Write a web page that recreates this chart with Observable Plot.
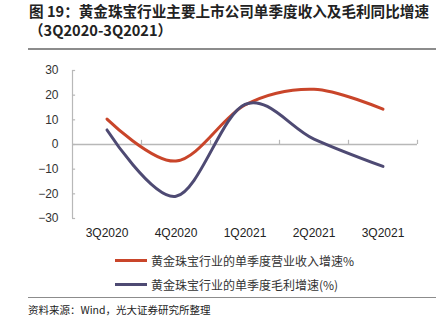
<!DOCTYPE html>
<html>
<head>
<meta charset="utf-8">
<script src="https://cdn.jsdelivr.net/npm/d3@7"></script>
<script src="https://cdn.jsdelivr.net/npm/@observablehq/plot@0.6"></script>
<style>
  html, body { margin: 0; padding: 0; background: #fff; width: 443px; height: 332px; overflow: hidden; }
  body { position: relative; font-family: "Noto Sans CJK SC", "Noto Sans", sans-serif; }
  .title { position: absolute; left: 29px; top: 1px; font-size: 14.6px; font-weight: bold; color: #222; line-height: 19px; white-space: nowrap; }
  .rule-top { position: absolute; left: 28px; top: 48px; width: 408px; height: 2px; background: #8c8c8c; }
  #chart { position: absolute; left: 0; top: 55px; }
  .legend { position: absolute; left: 115px; font-size: 12px; color: #333; white-space: nowrap; display: flex; align-items: center; }
  .legend .sw { display: inline-block; width: 32px; height: 3px; margin-right: 4px; }
  .rule-bot { position: absolute; left: 28px; top: 297px; width: 408px; height: 1px; background: #8c8c8c; }
  .source { position: absolute; left: 28px; top: 302px; font-size: 10.5px; color: #222; white-space: nowrap; }
</style>
</head>
<body>
<div class="title">图 19：黄金珠宝行业主要上市公司单季度收入及毛利同比增速<br>（3Q2020-3Q2021）</div>
<div class="rule-top"></div>
<div id="chart"></div>
<div class="legend" id="leg1" style="top:252px;"></div>
<div class="legend" id="leg2" style="top:276px;"></div>
<div class="rule-bot"></div>
<div class="source">资料来源：Wind，光大证券研究所整理</div>
<script>
const categories = ["3Q2020", "4Q2020", "1Q2021", "2Q2021", "3Q2021"];
const revenueGrowth = [10.3, -6.7, 16.0, 22.4, 14.3];
const grossProfitGrowth = [5.9, -21.0, 16.3, 2.2, -8.9];
const seriesNames = ["黄金珠宝行业的单季度营业收入增速%", "黄金珠宝行业的单季度毛利增速(%)"];
const seriesColors = ["#c9452a", "#4e4a73"];
const yTicks = [-30, -20, -10, 0, 10, 20, 30];

const rows = [];
categories.forEach((c, i) => {
  rows.push({cat: c, idx: i + 0.5, value: revenueGrowth[i], series: seriesNames[0]});
});
categories.forEach((c, i) => {
  rows.push({cat: c, idx: i + 0.5, value: grossProfitGrowth[i], series: seriesNames[1]});
});
const boundaries = categories.map((c, i) => i + 1);
const labelRows = categories.map((c, i) => ({cat: c, idx: i + 0.5}));

const axisColor = "#b8b8b8";

const chart = Plot.plot({
  width: 443,
  height: 190,
  marginLeft: 72,
  marginRight: 26,
  marginTop: 15,
  marginBottom: 27,
  style: {fontFamily: "'Liberation Sans', Arial, sans-serif", fontSize: "12px", color: "#333", background: "transparent"},
  x: {domain: [0, categories.length], axis: null},
  y: {domain: [-30, 30], ticks: yTicks},
  color: {domain: seriesNames, range: seriesColors},
  marks: [
    Plot.axisY({ticks: yTicks, tickSize: 0, tickPadding: 14, label: null, fontSize: 12, fill: "#333"}),
    Plot.ruleX([0], {y1: -30, y2: 30, stroke: axisColor, strokeWidth: 1.2}),
    Plot.ruleY(yTicks, {x1: 0, x2: 0.045, stroke: axisColor, strokeWidth: 1.2}),
    Plot.ruleY([0], {x1: 0, x2: categories.length, stroke: axisColor, strokeWidth: 1.5}),
    Plot.ruleX(boundaries, {y1: 0, y2: 1.7, stroke: axisColor, strokeWidth: 1.2}),
    Plot.text(labelRows, {x: "idx", y: -30, text: "cat", dy: 15, fontSize: 12, fill: "#222"}),
    Plot.line(rows, {x: "idx", y: "value", z: "series", stroke: "series", strokeWidth: 3, curve: "cardinal"})
  ]
});
document.getElementById("chart").appendChild(chart);

[["leg1", 0], ["leg2", 1]].forEach(([id, k]) => {
  const el = document.getElementById(id);
  const sw = document.createElement("span");
  sw.className = "sw";
  sw.style.background = seriesColors[k];
  el.appendChild(sw);
  const t = document.createElement("span");
  t.textContent = seriesNames[k];
  el.appendChild(t);
});
</script>
</body>
</html>
